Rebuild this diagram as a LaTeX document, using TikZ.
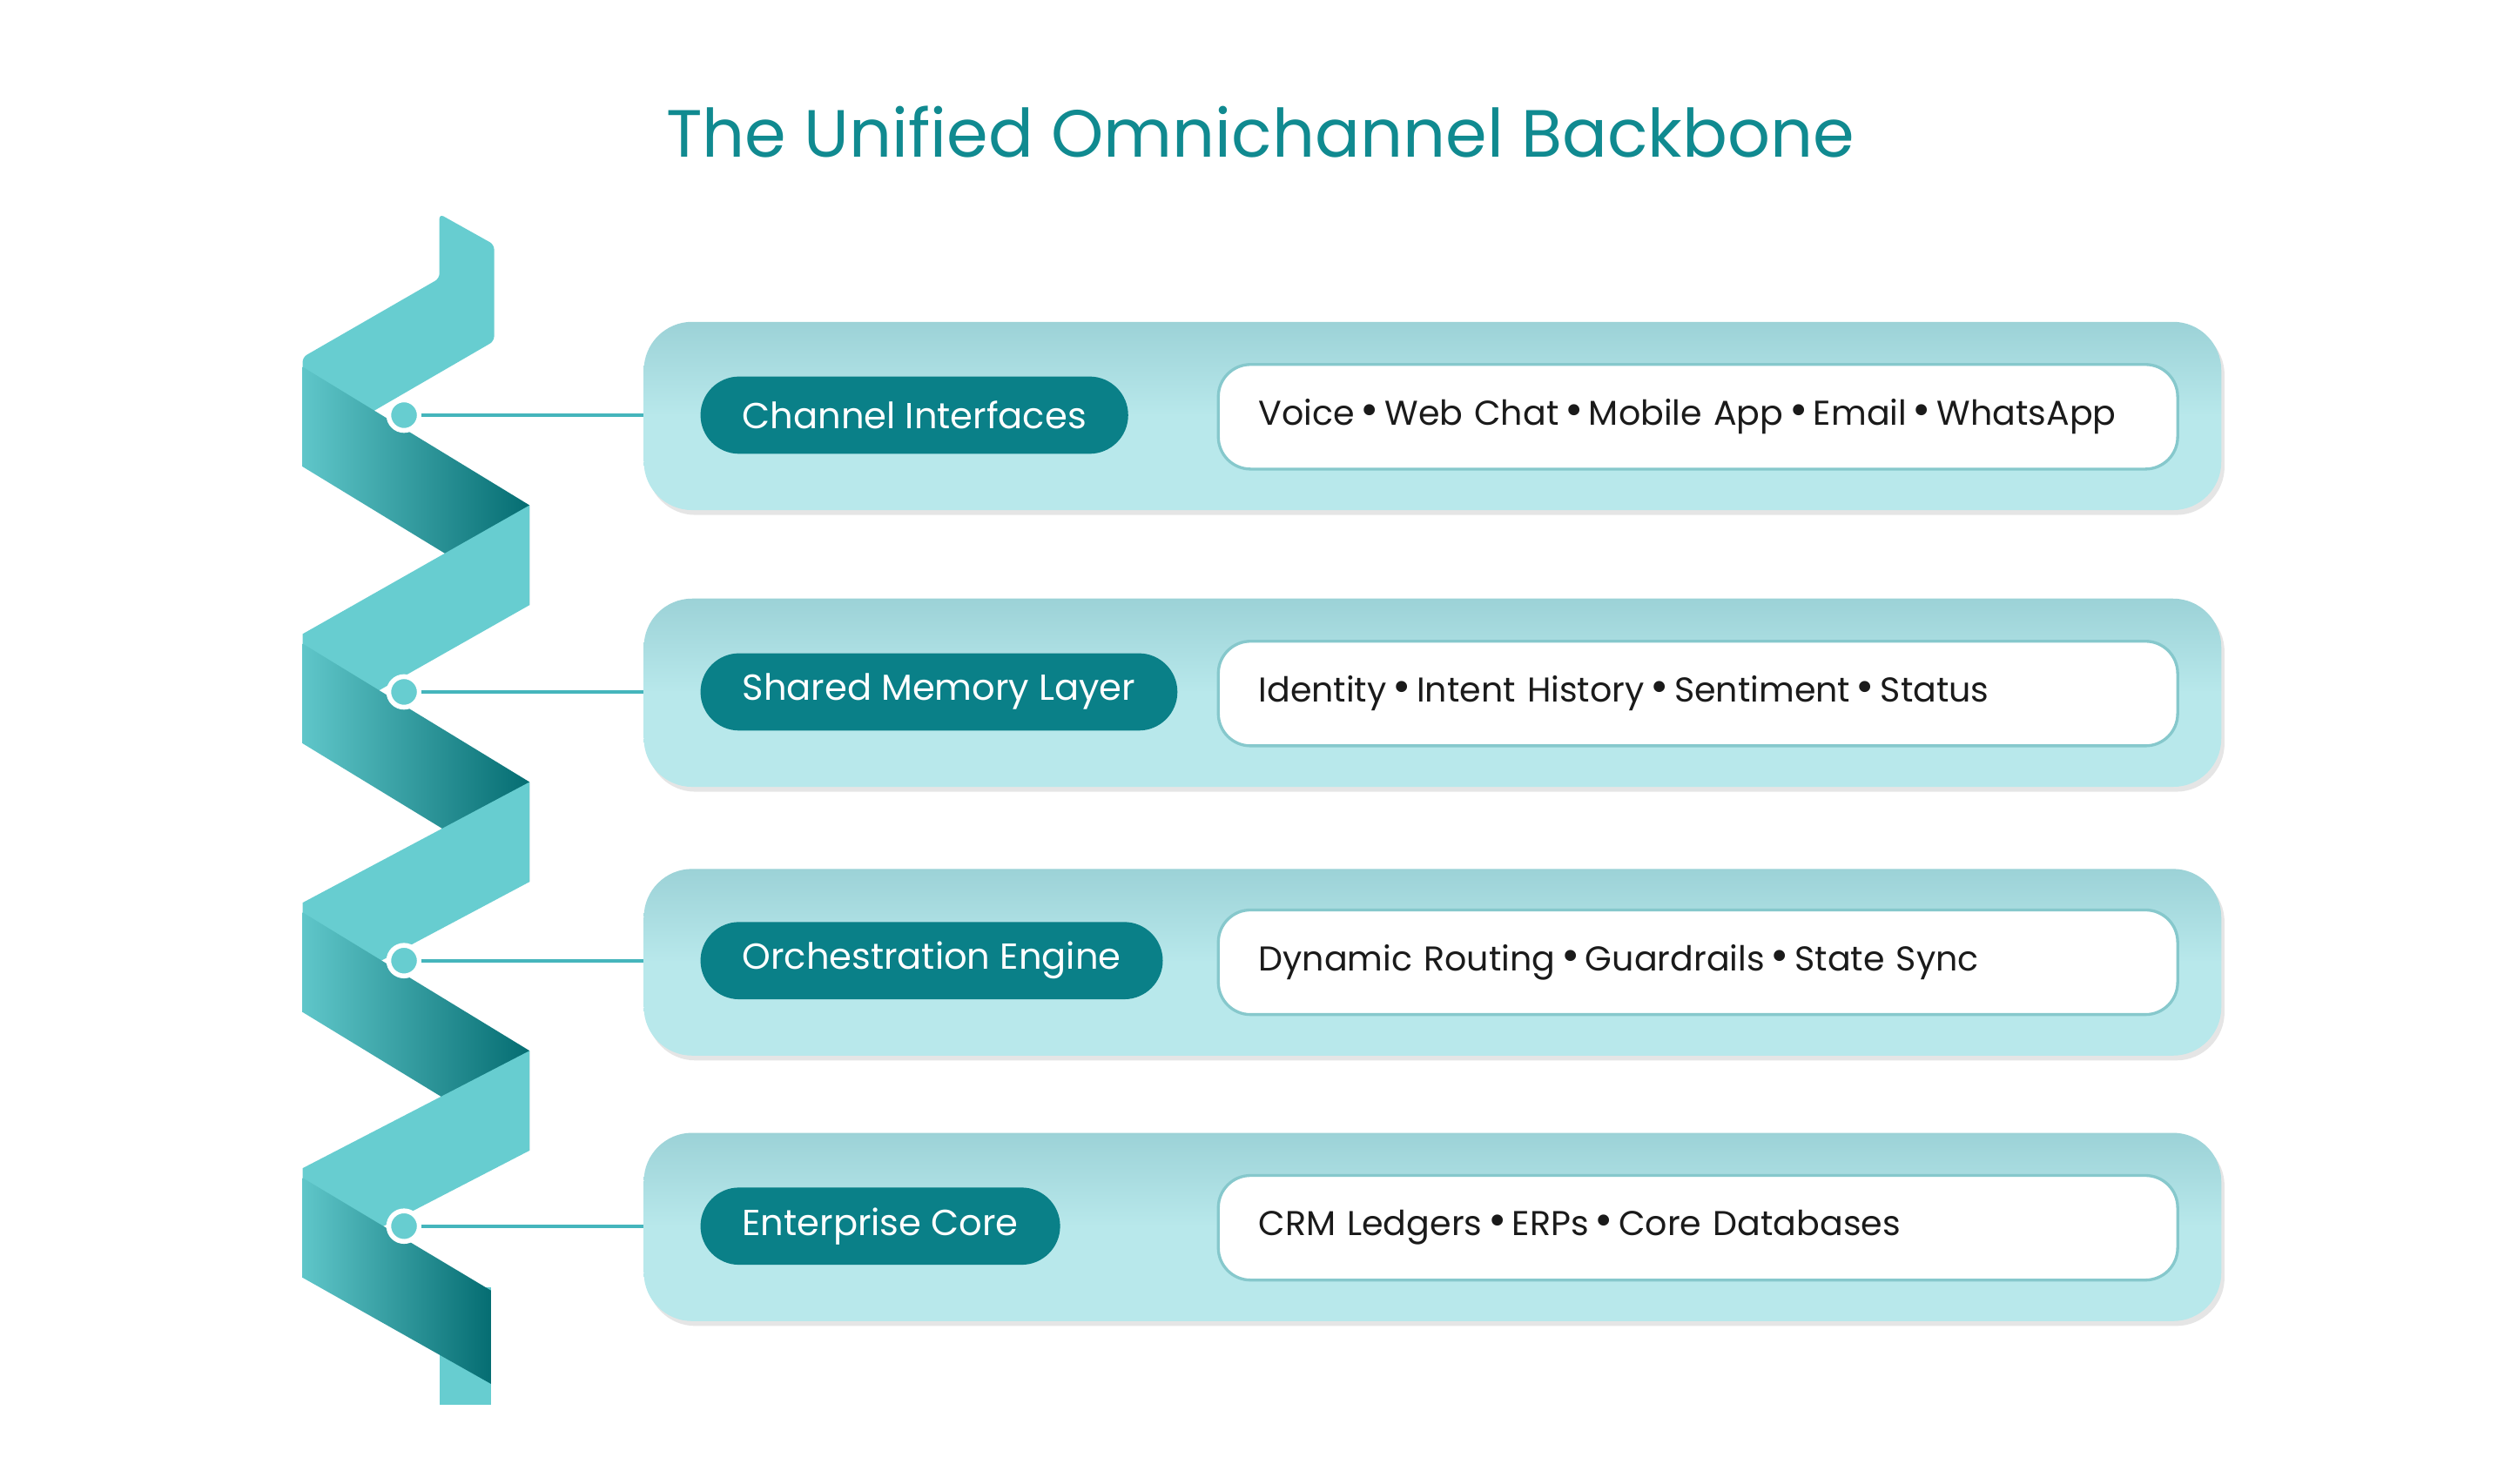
\documentclass[tikz,border=0pt]{standalone}
\usepackage{fontspec}
\setmainfont{Poppins}
\definecolor{titlec}{HTML}{108A90}
\definecolor{pillc}{HTML}{0A8088}
\definecolor{linec}{HTML}{45B5BC}
\definecolor{boxb}{HTML}{86C8CC}
\definecolor{ribl}{HTML}{67CDD0}
\definecolor{ribd}{HTML}{056D72}
\definecolor{ribm}{HTML}{5FC6C9}
\definecolor{pant}{HTML}{9CD2D7}
\definecolor{panb}{HTML}{B8E8EB}
\definecolor{txt}{HTML}{1A1A1A}
\tikzset{
  panel/.style={rounded corners=30pt, top color=pant, bottom color=panb, middle color=panb, shading angle=0},
  pill/.style={fill=pillc, text=white, rounded corners=24pt, minimum height=48pt, inner xsep=26pt, anchor=west, font=\fontsize{22.5}{27}\selectfont},
  itembox/.style={draw=boxb, line width=1.8pt, fill=white, rounded corners=20pt, minimum height=65pt, minimum width=596pt, anchor=west, text=txt, inner xsep=25pt, text width=546pt, align=left, font=\fontsize{21.4}{26}\selectfont},
  link/.style={draw=linec, line width=2.2pt},
  dot/.style={circle, fill=ribl, draw=white, line width=3pt, minimum size=19pt, inner sep=0pt},
}
\newcommand{\bul}{\,{\fontsize{28}{26}\selectfont•}\,}
\begin{document}
\begin{tikzpicture}[x=1pt,y=-1pt]
\useasboundingbox (0,0) rectangle (1560,922);
\fill[white] (0,0) rectangle (1560,922);
\node[text=titlec, font=\fontsize{41.5}{50}\selectfont] (title) at (783,82) {The Unified Omnichannel Backbone};
% ribbon
\def\cA{258}\def\cB{430}\def\cC{597}\def\cD{762}
\fill[ribl, rounded corners=3pt] (273,133) -- (307,152) -- (307,212) -- (188,281) -- (188,222) -- (273,173) -- cycle;
\shade[left color=ribm, right color=ribd] (188,\cA-30) -- (329,\cA+56) -- (329,\cA+118) -- (188,\cA+32) -- cycle;
\fill[ribl] (329,\cA+56) -- (329,\cA+118) -- (188,\cB+26) -- (188,\cB-36) -- cycle;
\shade[left color=ribm, right color=ribd] (188,\cB-30) -- (329,\cB+56) -- (329,\cB+118) -- (188,\cB+32) -- cycle;
\fill[ribl] (329,\cB+56) -- (329,\cB+118) -- (188,\cC+26) -- (188,\cC-36) -- cycle;
\shade[left color=ribm, right color=ribd] (188,\cC-30) -- (329,\cC+56) -- (329,\cC+118) -- (188,\cC+32) -- cycle;
\fill[ribl] (329,\cC+56) -- (329,\cC+118) -- (188,\cD+26) -- (188,\cD-36) -- cycle;
\fill[ribl] (273,800) rectangle (305,873);
\shade[left color=ribm, right color=ribd] (188,\cD-30) -- (305,\cD+40) -- (305,\cD+98) -- (188,\cD+32) -- cycle;
% panels
\foreach \t/\b in {200/317, 372/489, 540/656, 704/821}{
  \fill[black!10, rounded corners=30pt] (402,\t+3) rectangle (1382,\b+3);
  \shade[panel] (400,\t) rectangle (1380,\b);
}
% rows
\node[dot] (d1) at (251,\cA) {};
\node[dot] (d2) at (251,\cB) {};
\node[dot] (d3) at (251,\cC) {};
\node[dot] (d4) at (251,\cD) {};
\coordinate (e1) at (400,\cA);
\coordinate (e2) at (400,\cB);
\coordinate (e3) at (400,\cC);
\coordinate (e4) at (400,\cD);
\draw[link] (d1) -- (e1); \draw[link] (d2) -- (e2);
\draw[link] (d3) -- (e3); \draw[link] (d4) -- (e4);
\node[pill] (p1) at (435,\cA) {Channel Interfaces};
\node[pill] (p2) at (435,\cB) {Shared Memory Layer};
\node[pill] (p3) at (435,\cC) {Orchestration Engine};
\node[pill] (p4) at (435,\cD) {Enterprise Core};
\node[itembox] (b1) at (756,\cA+1) {\mbox{Voice\bul Web Chat\bul Mobile App\bul Email\bul WhatsApp}};
\node[itembox] (b2) at (756,\cB+1) {\mbox{Identity\bul Intent History\bul Sentiment\bul Status}};
\node[itembox] (b3) at (756,\cC+1) {\mbox{Dynamic Routing\bul Guardrails\bul State Sync}};
\node[itembox] (b4) at (756,\cD+1) {\mbox{CRM Ledgers\bul ERPs\bul Core Databases}};
\end{tikzpicture}
\end{document}
